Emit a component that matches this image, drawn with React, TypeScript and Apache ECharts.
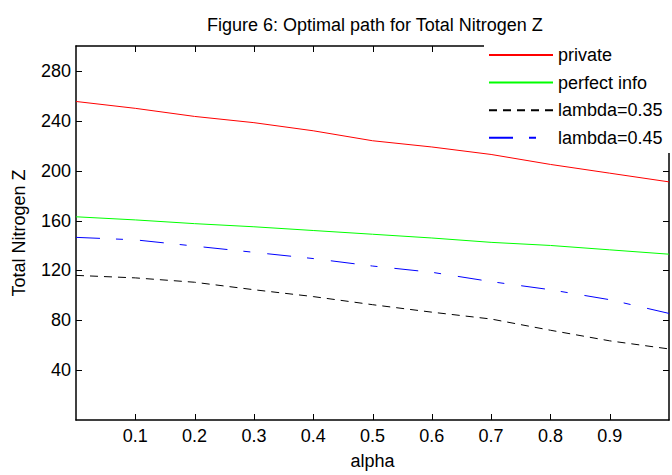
import React, { useEffect, useRef } from "react";
import * as echarts from "echarts";

const alpha = [0, 0.1, 0.2, 0.3, 0.4, 0.5, 0.6, 0.7, 0.8, 0.9, 1.0];
const privateZ = [255.5, 250, 243.5, 238.5, 232, 224, 219, 213, 205, 198, 191];
const perfectInfoZ = [163, 160.5, 157.5, 155, 152, 149, 146, 142.5, 140, 136.5, 133];
const lambda35Z = [116, 114, 110.5, 104.5, 99, 92.5, 86.5, 81, 72, 63.5, 57];
const lambda45Z = [146.5, 144.5, 139.5, 134.5, 129.5, 123.5, 118.5, 111, 104.5, 96.5, 85.5];

const seriesNames = ["private", "perfect info", "lambda=0.35", "lambda=0.45"];
const xTicks = [0.1, 0.2, 0.3, 0.4, 0.5, 0.6, 0.7, 0.8, 0.9];
const yTicks = [40, 80, 120, 160, 200, 240, 280];
const xRange = [0, 1];
const yRange = [0, 300];

const FONT = "'Liberation Sans', Arial, Helvetica, sans-serif";
const GRID = { left: 76, top: 46, width: 595, height: 380 };

function pairs(ys: number[]) {
  return alpha.map((x, i) => [x, ys[i]]);
}

export default function App() {
  const ref = useRef<HTMLDivElement>(null);
  useEffect(() => {
    if (!ref.current) return;
    const chart = echarts.init(ref.current, undefined, { renderer: "svg" });
    const axisLine = () => ({ show: true, onZero: false, lineStyle: { color: "#000", width: 1.5 } });
    chart.setOption({
      animation: false,
      backgroundColor: "#fff",
      title: {
        text: "Figure 6: Optimal path for Total Nitrogen Z",
        left: 207,
        top: 16,
        padding: 0,
        textStyle: { fontFamily: FONT, fontSize: 18, fontWeight: "normal", color: "#000" },
      },
      legend: {
        z: 100,
        orient: "vertical",
        left: 484,
        top: 39,
        padding: [7, 10, 8, 4],
        itemWidth: 64,
        itemHeight: 18,
        itemGap: 9.6,
        itemStyle: { opacity: 0 },
        textStyle: { fontFamily: FONT, fontSize: 18, color: "#000" },
        data: seriesNames,
        selectedMode: false,
      },
      grid: { ...GRID, containLabel: false },
      xAxis: [
        {
          type: "value",
          position: "bottom",
          min: xRange[0],
          max: xRange[1],
          interval: 0.1,
          name: "alpha",
          nameLocation: "middle",
          nameGap: 32,
          nameTextStyle: { fontFamily: FONT, fontSize: 18, color: "#000" },
          axisLine: axisLine(),
          axisTick: { show: false },
          splitLine: { show: false },
          axisLabel: {
            margin: 7,
            fontFamily: FONT,
            fontSize: 18,
            color: "#000",
            formatter: (v: number) => {
              const t = xTicks.find((k) => Math.abs(k - v) < 1e-6);
              return t !== undefined ? t.toFixed(1) : "";
            },
          },
        },
        {
          type: "value",
          position: "top",
          min: xRange[0],
          max: xRange[1],
          interval: 0.1,
          axisLine: axisLine(),
          axisTick: { show: false },
          axisLabel: { show: false },
          splitLine: { show: false },
        },
      ],
      yAxis: [
        {
          type: "value",
          position: "left",
          min: yRange[0],
          max: yRange[1],
          interval: 40,
          name: "Total Nitrogen Z",
          nameLocation: "middle",
          nameGap: 48,
          nameTextStyle: { fontFamily: FONT, fontSize: 18, color: "#000" },
          axisLine: axisLine(),
          axisTick: { show: false },
          splitLine: { show: false },
          axisLabel: {
            margin: 5,
            fontFamily: FONT,
            fontSize: 18,
            color: "#000",
            formatter: (v: number) => (yTicks.includes(v) ? String(v) : ""),
          },
        },
        {
          type: "value",
          position: "right",
          min: yRange[0],
          max: yRange[1],
          interval: 40,
          axisLine: axisLine(),
          axisTick: { show: false },
          axisLabel: { show: false },
          splitLine: { show: false },
        },
      ],
      series: [
        {
          name: seriesNames[0],
          type: "line",
          data: pairs(privateZ),
          symbol: "none",
          lineStyle: { color: "#ff0000", width: 1, type: "solid" },
          itemStyle: { color: "#ff0000" },
        },
        {
          name: seriesNames[1],
          type: "line",
          data: pairs(perfectInfoZ),
          symbol: "none",
          lineStyle: { color: "#00ff00", width: 1, type: "solid" },
          itemStyle: { color: "#00ff00" },
        },
        {
          name: seriesNames[2],
          type: "line",
          data: pairs(lambda35Z),
          symbol: "none",
          lineStyle: { color: "#000000", width: 1, type: [8, 6] },
          itemStyle: { color: "#000000" },
        },
        {
          name: seriesNames[3],
          type: "line",
          data: pairs(lambda45Z),
          symbol: "none",
          lineStyle: { color: "#0000ff", width: 1, type: [24, 16, 7, 17] },
          itemStyle: { color: "#0000ff" },
        },
      ],
    });

    // Inward tick marks on all four sides (thin filled rects), placed through the grid's own conversion.
    const toPx = (x: number, y: number): [number, number] => {
      const p = chart.convertToPixel({ gridIndex: 0 }, [x, y]) as any;
      if (Array.isArray(p) && isFinite(p[0]) && isFinite(p[1])) return [p[0], p[1]];
      return [
        GRID.left + ((x - xRange[0]) / (xRange[1] - xRange[0])) * GRID.width,
        GRID.top + GRID.height - ((y - yRange[0]) / (yRange[1] - yRange[0])) * GRID.height,
      ];
    };
    const TL = 6;
    const [xL, yB] = toPx(xRange[0], yRange[0]);
    const [xR, yT] = toPx(xRange[1], yRange[1]);
    const tickFill = { fill: "#000" };
    const ticks: any[] = [];
    xTicks.forEach((v) => {
      const px = Math.round(toPx(v, yRange[0])[0]);
      ticks.push({ type: "rect", z: 50, silent: true, shape: { x: px, y: yB - TL, width: 1, height: TL }, style: tickFill });
      ticks.push({ type: "rect", z: 50, silent: true, shape: { x: px, y: yT, width: 1, height: TL }, style: tickFill });
    });
    yTicks.forEach((v) => {
      const py = Math.round(toPx(xRange[0], v)[1]);
      ticks.push({ type: "rect", z: 50, silent: true, shape: { x: xL, y: py, width: TL, height: 1 }, style: tickFill });
      ticks.push({ type: "rect", z: 50, silent: true, shape: { x: xR - TL, y: py, width: TL, height: 1 }, style: tickFill });
    });
    chart.setOption({
      graphic: [
        ...ticks,
        {
          type: "rect",
          z: 60,
          silent: true,
          shape: { x: 484, y: 38, width: 190, height: 115 },
          style: { fill: "#fff" },
        },
      ],
    });
    return () => chart.dispose();
  }, []);
  return <div ref={ref} style={{ width: 672, height: 475, position: "absolute", left: 0, top: 0 }} />;
}
